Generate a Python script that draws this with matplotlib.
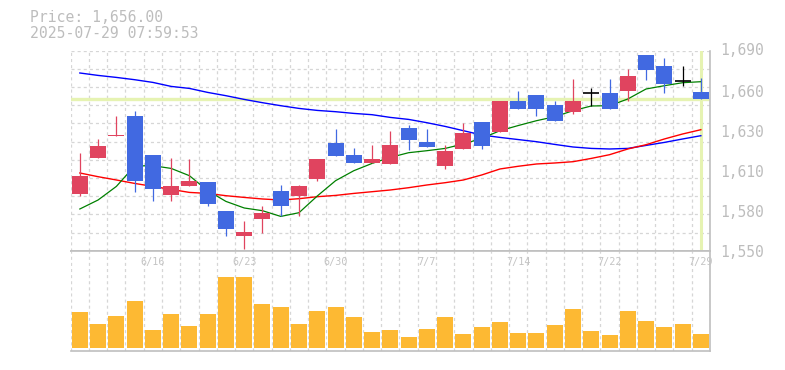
import matplotlib
matplotlib.use("Agg")
import matplotlib.pyplot as plt
import matplotlib.transforms as mtrans
import numpy as np

# ---------------- data ----------------
dates = ["6/10", "6/11", "6/12", "6/13", "6/16", "6/17", "6/18", "6/19", "6/20",
         "6/23", "6/24", "6/25", "6/26", "6/27", "6/30", "7/1", "7/2", "7/3", "7/4",
         "7/7", "7/8", "7/9", "7/10", "7/11", "7/14", "7/15", "7/16", "7/17", "7/18",
         "7/22", "7/23", "7/24", "7/25", "7/28", "7/29"]
opens = [1590, 1615, 1630, 1644.5, 1617, 1589, 1595, 1598, 1578,
         1560, 1572, 1592, 1588, 1600, 1625.5, 1617, 1611.5, 1611, 1636,
         1626, 1609.5, 1621.5, 1640, 1633, 1655, 1659, 1652, 1647, 1660.5,
         1660.5, 1661.5, 1687, 1679.5, 1668.5, 1661]
highs = [1618.5, 1628.5, 1644.5, 1648, 1617, 1615, 1614.5, 1598, 1578,
         1570.5, 1581.5, 1596, 1596, 1614.5, 1635.5, 1622, 1624, 1633.5, 1638,
         1635.5, 1624, 1639.5, 1640, 1655, 1662, 1659, 1654.5, 1670.5, 1664,
         1670.5, 1677.5, 1687, 1685, 1679.5, 1671]
lows = [1588, 1615, 1630, 1591, 1584.5, 1584.5, 1595, 1581, 1560,
        1551.5, 1562.5, 1574.5, 1574.5, 1598.5, 1616, 1611.5, 1611.5, 1611, 1620.5,
        1622.5, 1607.5, 1621.5, 1621.5, 1633, 1649.5, 1644.5, 1640.5, 1646, 1651.5,
        1649.5, 1654.5, 1669.5, 1660.5, 1665.5, 1656]
closes = [1602.5, 1623.5, 1631, 1598.5, 1593, 1595.5, 1598.5, 1583, 1565,
          1563, 1576.5, 1581.5, 1595.5, 1614.5, 1616.5, 1611.5, 1614.5, 1624, 1627.5,
          1622.5, 1620, 1632.5, 1623.5, 1655, 1649.5, 1649.5, 1640.5, 1654.5, 1660.5,
          1649.5, 1672.5, 1676.5, 1667, 1668.5, 1656]
ma_short = [1579.2, 1585.5, 1595.0, 1609.3, 1609.5, 1607.6, 1602.5, 1592.0, 1584.5,
            1579.9, 1578.0, 1574.0, 1576.6, 1588.3, 1599.0, 1606.0, 1611.1, 1615.3, 1618.6,
            1620.0, 1621.6, 1624.7, 1628.6, 1634.0, 1637.6, 1641.0, 1643.8, 1648.0, 1651.3,
            1651.5, 1656.2, 1663.2, 1665.5, 1667.6, 1668.3]
ma_mid = [1604.4, 1601.8, 1599.5, 1597.1, 1595.0, 1592.9, 1590.8, 1590.1, 1588.5,
          1587.3, 1586.2, 1585.5, 1586.4, 1587.8, 1588.7, 1590.1, 1591.3, 1592.5, 1594.1,
          1596.0, 1597.6, 1599.5, 1603.0, 1607.2, 1609.1, 1610.7, 1611.4, 1612.3, 1614.6,
          1617.2, 1621.2, 1624.2, 1628.2, 1631.7, 1634.7]
ma_long = [1674.4, 1672.7, 1671.3, 1669.7, 1667.8, 1665.0, 1663.6, 1660.8, 1658.5,
           1655.9, 1653.6, 1651.5, 1649.6, 1648.2, 1647.3, 1646.1, 1645.2, 1643.3, 1641.9,
           1639.6, 1637.0, 1634.0, 1631.0, 1629.3, 1627.8, 1626.3, 1624.4, 1622.6, 1621.6,
           1621.2, 1621.6, 1623.7, 1625.8, 1628.2, 1630.5]
volumes = [36, 24, 32, 47, 18, 34, 22, 34, 71,
           71, 44, 41, 24, 37, 41, 31, 16, 18, 11,
           19, 31, 14, 21, 26, 15, 15, 23, 39, 17,
           13, 37, 27, 21, 24, 14]
label_dates = ["6/16", "6/23", "6/30", "7/7", "7/14", "7/22", "7/29"]
ytick_values = [1550, 1578, 1606, 1634, 1662, 1690]
ytick_labels = ["1,550", "1,580", "1,610", "1,630", "1,660", "1,690"]
current_price = 1656.00
timestamp = "2025-07-29 07:59:53"

# ---------------- style ----------------
plt.rcParams['font.family'] = ['DejaVu Sans Mono']
plt.rcParams['lines.scale_dashes'] = False
UP = '#e0445f'
DOWN = '#4169e1'
VOL = '#fdb933'
GRID = '#d6d6d6'
TXT = '#bdbdbd'
SPINE = '#bfbfbf'
HL = '#e6f3b2'

W, H = 785, 370
fig = plt.figure(figsize=(W / 100, H / 100), dpi=100)

def rect(l, t, r, b):
    return [l / W, 1 - b / H, (r - l) / W, (b - t) / H]

ax = fig.add_axes(rect(70.7, 50.7, 710, 250.7))
axv = fig.add_axes(rect(70.7, 250.7, 710, 350.7))

n = len(dates)
x = np.arange(n)
ymin, ymax = 1550, 1690

for a in (ax, axv):
    a.set_xlim(-0.5, n - 0.5)
    for s in a.spines.values():
        s.set_color(SPINE)
        s.set_linewidth(1.2)
    a.spines['left'].set_visible(False)
    a.tick_params(length=0)
    # vertical grid at cell boundaries
    for b in np.arange(-0.5, n, 1.0):
        a.axvline(b, color=GRID, lw=0.9, ls=(0, (2.2, 2.2)), zorder=0)
ax.spines['top'].set_visible(False)

ax.set_ylim(ymin, ymax)
for gy in np.linspace(ymin, ymax, 12):
    ax.axhline(gy, color=GRID, lw=0.9, ls=(0, (2.2, 2.2)), zorder=0)

# current price lines
ax.axhline(current_price, color=HL, lw=2.4, zorder=1)
ax.axvline(x[-1], ymin=0.005, ymax=0.995, color=HL, lw=2.2, zorder=1)

# moving averages
ax.plot(x, ma_long, color='#0000ff', lw=1.0, zorder=2)
ax.plot(x, ma_mid, color='#ff0000', lw=1.0, zorder=2)
ax.plot(x, ma_short, color='#008000', lw=0.9, zorder=2)

# candles
bw = 0.875
for i in range(n):
    o, h, l, c = opens[i], highs[i], lows[i], closes[i]
    if c > o:
        col = UP
    elif c < o:
        col = DOWN
    else:
        col = 'black'
    ax.vlines(x[i], l, h, color=col, lw=0.9, zorder=3)
    if c == o:
        ax.hlines(o, x[i] - bw / 2, x[i] + bw / 2, color=col, lw=1.2, zorder=4)
    else:
        ax.bar(x[i], abs(c - o), bottom=min(o, c), width=bw, color=col,
               edgecolor='none', zorder=4)

ax.set_xticks([])
ax.yaxis.tick_right()
ax.set_yticks(ytick_values)
ax.set_yticklabels(ytick_labels)
ax.tick_params(axis='y', colors=TXT, labelsize=10.5, pad=7)
for t in ax.get_yticklabels():
    t.set_color(TXT)
ax.get_yticklabels()[-1].set_va('center')

# volume
axv.bar(x, volumes, width=bw, color=VOL, edgecolor='none', zorder=2)
axv.set_ylim(-2.5, 97.5)
axv.set_xticks([])
axv.set_yticks([])

trans = mtrans.blended_transform_factory(axv.transData, axv.transAxes)
for d in label_dates:
    i = dates.index(d)
    axv.text(x[i], 0.885, d, transform=trans, ha='center', va='center',
             fontsize=7.3, color='#c4c4c4', zorder=5)

# header
fig.text(30 / W, 1 - 18 / H, "Price: {:,.2f}".format(current_price),
         ha='left', va='center', fontsize=10.6, color=TXT)
fig.text(30 / W, 1 - 33.5 / H, timestamp,
         ha='left', va='center', fontsize=10.6, color=TXT)

fig.savefig("out.png", dpi=100)
